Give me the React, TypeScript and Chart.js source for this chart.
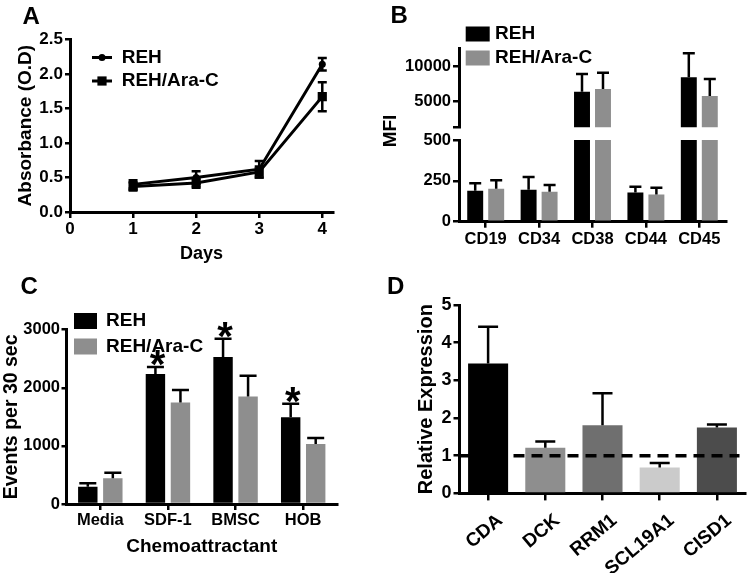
import React, { useEffect, useRef } from "react";
import { Chart, registerables } from "chart.js";

Chart.register(...registerables);

const FONT = "'Liberation Sans', Arial, Helvetica, sans-serif";
Chart.defaults.font.family = FONT;
Chart.defaults.font.weight = "bold";
Chart.defaults.color = "#000";

// ---------- Panel A: growth curve ----------
const daysA = [1, 2, 3, 4];
const rehA = [0.4, 0.5, 0.62, 2.14];
const rehAErr = [0.06, 0.09, 0.12, 0.09];
const araA = [0.37, 0.42, 0.58, 1.67];
const araAErr = [0.06, 0.07, 0.08, 0.21];
const xTicksA = [0, 1, 2, 3, 4];
const yTicksA = [0, 0.5, 1, 1.5, 2, 2.5];

// ---------- Panel B: surface markers (broken axis) ----------
const markersB = ["CD19", "CD34", "CD38", "CD44", "CD45"];
const rehB = [190, 196, 6400, 179, 8420];
const rehBErr = [45, 77, 2480, 35, 3360];
const araB = [202, 183, 6780, 167, 5800];
const araBErr = [52, 42, 2280, 41, 2380];
const lowTicksB = [0, 250, 500];
const highTicksB = [5000, 10000];
const lowMaxB = 500;
const highMinB = 1415;
const highMaxB = 12520;

// ---------- Panel C: migration ----------
const attractC = ["Media", "SDF-1", "BMSC", "HOB"];
const rehC = [299, 2236, 2529, 1494];
const rehCErr = [57, 120, 316, 230];
const araC = [442, 1747, 1851, 1034];
const araCErr = [98, 213, 356, 104];
const sigC = [false, true, true, true];
const yTicksC = [0, 1000, 2000, 3000];

// ---------- Panel D: relative expression ----------
const genesD = ["CDA", "DCK", "RRM1", "SCL19A1", "CISD1"];
const exprD = [3.45, 1.21, 1.81, 0.69, 1.75];
const exprDErr = [0.97, 0.17, 0.85, 0.12, 0.08];
const colorsD = ["#000000", "#8e8e8e", "#6f6f6f", "#cbcbcb", "#4c4c4c"];
const baselineD = 1;
const yTicksD = [0, 1, 2, 3, 4, 5];

const panelLetters = ["A", "B", "C", "D"];

const BLACK = "#000000";
const GRAY = "#8e8e8e";

const extras: any = {
  id: "extras",
  afterDatasetsDraw(chart: any, _a: any, opts: any) {
    const ctx = chart.ctx;
    const ys = chart.scales.y;
    const area = chart.chartArea;
    if (opts.refLine) {
      const r = opts.refLine;
      const py = ys.getPixelForValue(r.value);
      ctx.save();
      ctx.strokeStyle = "#000";
      ctx.lineWidth = r.width;
      ctx.setLineDash(r.dash);
      ctx.beginPath();
      ctx.moveTo(area.left, py);
      ctx.lineTo(area.right - r.endInset, py);
      ctx.stroke();
      ctx.restore();
    }
    const eb = opts.errorBars;
    if (eb) {
      chart.data.datasets.forEach((ds: any, i: number) => {
        if (!ds.errors) return;
        const meta = chart.getDatasetMeta(i);
        meta.data.forEach((el: any, j: number) => {
          const raw = ds.data[j];
          const v = typeof raw === "number" ? raw : raw.y;
          if (v < ys.min || v > ys.max) return;
          const e = ds.errors[j];
          const x = el.x;
          const top = ys.getPixelForValue(v + e);
          const bot = ys.getPixelForValue(eb.both ? v - e : v);
          const c = eb.cap / 2;
          ctx.save();
          ctx.strokeStyle = "#000";
          ctx.lineWidth = eb.width;
          ctx.beginPath();
          ctx.moveTo(x, top);
          ctx.lineTo(x, bot);
          ctx.moveTo(x - c, top);
          ctx.lineTo(x + c, top);
          if (eb.both) {
            ctx.moveTo(x - c, bot);
            ctx.lineTo(x + c, bot);
          }
          ctx.stroke();
          const st = opts.stars;
          if (st && i === st.dataset && st.flags[j]) {
            ctx.font = `bold ${st.size}px ${FONT}`;
            ctx.fillStyle = "#000";
            ctx.textAlign = "center";
            ctx.textBaseline = "alphabetic";
            const m = ctx.measureText("*");
            const base = top - st.gap - m.actualBoundingBoxDescent;
            ctx.fillText("*", x + st.dx, base);
          }
          ctx.restore();
        });
      });
    }
  },
  afterDraw(chart: any, _a: any, opts: any) {
    const ctx = chart.ctx;
    (opts.texts || []).forEach((t: any) => {
      ctx.save();
      ctx.font = `bold ${t.size}px ${FONT}`;
      ctx.fillStyle = "#000";
      ctx.textAlign = t.align || "left";
      ctx.textBaseline = "middle";
      ctx.translate(t.x, t.y);
      if (t.rot) ctx.rotate(t.rot);
      ctx.fillText(t.text, 0, 0);
      ctx.restore();
    });
    const L = opts.legend;
    if (L) {
      chart.data.datasets.forEach((ds: any, i: number) => {
        const cy = L.y + i * L.dy;
        ctx.save();
        if (L.kind === "box") {
          ctx.fillStyle = ds.backgroundColor;
          ctx.fillRect(L.x, cy - L.h / 2, L.w, L.h);
        } else {
          ctx.strokeStyle = "#000";
          ctx.lineWidth = 3;
          ctx.beginPath();
          ctx.moveTo(L.x, cy);
          ctx.lineTo(L.x + L.w, cy);
          ctx.stroke();
          ctx.fillStyle = "#000";
          const mx = L.x + L.w / 2;
          if (ds.pointStyle === "rect") {
            const s = ds.pointRadius * Math.SQRT1_2;
            ctx.fillRect(mx - s, cy - s, 2 * s, 2 * s);
          } else {
            ctx.beginPath();
            ctx.arc(mx, cy, ds.pointRadius, 0, Math.PI * 2);
            ctx.fill();
          }
        }
        ctx.font = `bold ${L.size}px ${FONT}`;
        ctx.textBaseline = "middle";
        ctx.textAlign = "left";
        ctx.fillStyle = "#000";
        ctx.fillText(ds.label, L.textX, cy);
        ctx.restore();
      });
    }
  },
};

const axisBorder = { display: true, color: "#000", width: 3 };
const tickGrid = (len: number, offset = false) => ({
  display: true,
  offset,
  drawOnChartArea: false,
  drawTicks: true,
  tickLength: len,
  color: "#000",
  lineWidth: 2.5,
});
const font = (size: number) => ({ family: FONT, size, weight: "bold" as const });
const plain = (v: any) => String(v);
const baseOpts = {
  responsive: false,
  animation: false,
  devicePixelRatio: 1,
  events: [],
};

// ---------------- configs ----------------
function makeA(): any {
  const W = 375, H = 280;
  const L = 70, T = 39.3, R = 333, B = 212;
  return {
    type: "line",
    data: {
      datasets: [
        {
          label: "REH",
          data: daysA.map((d, i) => ({ x: d, y: rehA[i] })),
          errors: rehAErr,
          borderColor: BLACK,
          backgroundColor: BLACK,
          borderWidth: 3,
          pointStyle: "circle",
          pointRadius: 3.5,
          pointBorderWidth: 0,
          pointBackgroundColor: BLACK,
          tension: 0,
        },
        {
          label: "REH/Ara-C",
          data: daysA.map((d, i) => ({ x: d, y: araA[i] })),
          errors: araAErr,
          borderColor: BLACK,
          backgroundColor: BLACK,
          borderWidth: 3,
          pointStyle: "rect",
          pointRadius: 6.5,
          pointBorderWidth: 0,
          pointBackgroundColor: BLACK,
          tension: 0,
        },
      ],
    },
    options: {
      ...baseOpts,
      layout: { padding: { left: 0, top: T, right: W - R, bottom: 0 } },
      plugins: {
        legend: { display: false },
        tooltip: { enabled: false },
        extras: {
          errorBars: { cap: 9, width: 2.5, both: true },
          legend: { kind: "line", x: 92, w: 20, y: 57.5, dy: 23.5, textX: 121.7, size: 19 },
        },
      },
      scales: {
        x: {
          type: "linear",
          min: 0,
          max: 4.17,
          afterBuildTicks: (s: any) => {
            s.ticks = xTicksA.map((v) => ({ value: v }));
          },
          afterFit: (s: any) => {
            s.height = H - B;
          },
          border: axisBorder,
          grid: tickGrid(6),
          ticks: { font: font(17), color: "#000", padding: 1, maxRotation: 0, callback: plain },
          title: { display: true, text: "Days", font: font(18), color: "#000", padding: { top: 0, bottom: 15 } },
        },
        y: {
          min: 0,
          max: 2.5,
          afterBuildTicks: (s: any) => {
            s.ticks = yTicksA.map((v) => ({ value: v }));
          },
          afterFit: (s: any) => {
            s.width = L;
          },
          border: axisBorder,
          grid: tickGrid(5),
          ticks: { font: font(17), color: "#000", padding: 2, callback: (v: any) => Number(v).toFixed(1) },
          title: { display: true, text: "Absorbance (O.D)", font: font(19), color: "#000", padding: { top: 14, bottom: 0 } },
        },
      },
    },
    plugins: [extras],
  };
}

const B_W = 374, B_H = 280, B_L = 84, B_R = 351;

function barDatasetsB() {
  return [
    {
      label: "REH",
      data: rehB,
      errors: rehBErr,
      backgroundColor: BLACK,
      categoryPercentage: 0.786,
      barPercentage: 0.76,
      clip: 0,
    },
    {
      label: "REH/Ara-C",
      data: araB,
      errors: araBErr,
      backgroundColor: GRAY,
      categoryPercentage: 0.786,
      barPercentage: 0.76,
      clip: 0,
    },
  ];
}

function makeBHigh(): any {
  const T = 48, B = 127.3;
  return {
    type: "bar",
    data: { labels: markersB, datasets: barDatasetsB() },
    options: {
      ...baseOpts,
      layout: { padding: { left: 0, top: T, right: B_W - B_R, bottom: B_H - B } },
      plugins: {
        legend: { display: false },
        tooltip: { enabled: false },
        extras: {
          errorBars: { cap: 12, width: 2.5, both: false },
          texts: [{ text: "MFI", x: 16, y: 131, size: 19, align: "center", rot: -Math.PI / 2 }],
          legend: { kind: "box", x: 90.7, w: 24, h: 15, y: 34, dy: 24, textX: 120, size: 19 },
        },
      },
      scales: {
        x: { type: "category", display: false, offset: true },
        y: {
          min: highMinB,
          max: highMaxB,
          afterBuildTicks: (s: any) => {
            s.ticks = [highMinB, ...highTicksB].map((v) => ({ value: v }));
          },
          afterFit: (s: any) => {
            s.width = B_L;
          },
          border: axisBorder,
          grid: tickGrid(6),
          ticks: { font: font(16.5), color: "#000", padding: 2, callback: (v: any) => (v === highMinB ? "" : String(v)) },
        },
      },
    },
    plugins: [extras],
  };
}

function makeBLow(): any {
  const T = 140, B = 221.7;
  return {
    type: "bar",
    data: { labels: markersB, datasets: barDatasetsB() },
    options: {
      ...baseOpts,
      layout: { padding: { left: 0, top: T, right: B_W - B_R, bottom: 0 } },
      plugins: {
        legend: { display: false },
        tooltip: { enabled: false },
        extras: { errorBars: { cap: 12, width: 2.5, both: false } },
      },
      scales: {
        x: {
          type: "category",
          offset: true,
          afterFit: (s: any) => {
            s.height = B_H - B;
          },
          border: axisBorder,
          grid: tickGrid(6, false),
          ticks: { font: font(16.5), color: "#000", padding: 1.5, maxRotation: 0, autoSkip: false },
        },
        y: {
          min: 0,
          max: lowMaxB,
          afterBuildTicks: (s: any) => {
            s.ticks = lowTicksB.map((v) => ({ value: v }));
          },
          afterFit: (s: any) => {
            s.width = B_L;
          },
          border: axisBorder,
          grid: tickGrid(6),
          ticks: { font: font(16.5), color: "#000", padding: 2, callback: plain },
        },
      },
    },
    plugins: [extras],
  };
}

function makeC(): any {
  const W = 375, H = 293;
  const L = 66.5, T = 49.7, R = 337, B = 224;
  const ds = (label: string, data: number[], errors: number[], color: string) => ({
    label,
    data,
    errors,
    backgroundColor: color,
    categoryPercentage: 0.74,
    barPercentage: 0.776,
  });
  return {
    type: "bar",
    data: {
      labels: attractC,
      datasets: [ds("REH", rehC, rehCErr, BLACK), ds("REH/Ara-C", araC, araCErr, GRAY)],
    },
    options: {
      ...baseOpts,
      layout: { padding: { left: 0, top: T, right: W - R, bottom: 0 } },
      plugins: {
        legend: { display: false },
        tooltip: { enabled: false },
        extras: {
          errorBars: { cap: 17, width: 2.5, both: false },
          stars: { dataset: 0, flags: sigC, size: 40, gap: 1, dx: 2 },
          legend: { kind: "box", x: 74, w: 23, h: 16, y: 41, dy: 25.5, textX: 106, size: 19 },
        },
      },
      scales: {
        x: {
          type: "category",
          offset: true,
          afterFit: (s: any) => {
            s.height = H - B;
          },
          border: axisBorder,
          grid: tickGrid(6, false),
          ticks: { font: font(16.5), color: "#000", padding: 1, maxRotation: 0, autoSkip: false },
          title: { display: true, text: "Chemoattractant", font: font(19), color: "#000", padding: { top: 0, bottom: 14.6 } },
        },
        y: {
          min: 0,
          max: 3000,
          afterBuildTicks: (s: any) => {
            s.ticks = yTicksC.map((v) => ({ value: v }));
          },
          afterFit: (s: any) => {
            s.width = L;
          },
          border: axisBorder,
          grid: tickGrid(5),
          ticks: { font: font(16.5), color: "#000", padding: 1.5, callback: plain },
          title: { display: true, text: "Events per 30 sec", font: font(19.5), color: "#000", padding: { top: 0, bottom: 0 } },
        },
      },
    },
    plugins: [extras],
  };
}

function makeD(): any {
  const W = 374, H = 293;
  const L = 84.5, T = 25, R = 370.5, B = 213.4;
  return {
    type: "bar",
    data: {
      labels: genesD,
      datasets: [
        {
          label: "Relative Expression",
          data: exprD,
          errors: exprDErr,
          backgroundColor: colorsD,
          categoryPercentage: 1,
          barPercentage: 0.7,
        },
      ],
    },
    options: {
      ...baseOpts,
      layout: { padding: { left: 0, top: T, right: W - R, bottom: 0 } },
      plugins: {
        legend: { display: false },
        tooltip: { enabled: false },
        extras: {
          refLine: { value: baselineD, dash: [11, 7], width: 3.5, endInset: 6 },
          errorBars: { cap: 20, width: 2.5, both: false },
        },
      },
      scales: {
        x: {
          type: "category",
          offset: true,
          afterFit: (s: any) => {
            s.height = H - B;
          },
          border: axisBorder,
          grid: tickGrid(7, false),
          ticks: {
            font: font(19),
            color: "#000",
            padding: 9,
            labelOffset: 12,
            minRotation: 40,
            maxRotation: 40,
            autoSkip: false,
          },
        },
        y: {
          min: 0,
          max: 5,
          afterBuildTicks: (s: any) => {
            s.ticks = yTicksD.map((v) => ({ value: v }));
          },
          afterFit: (s: any) => {
            s.width = L;
          },
          border: axisBorder,
          grid: tickGrid(6),
          ticks: { font: font(18), color: "#000", padding: 2, callback: plain },
          title: { display: true, text: "Relative Expression", font: font(20), color: "#000", padding: { top: 39.7, bottom: 0 } },
        },
      },
    },
    plugins: [extras],
  };
}

function ChartBox({ x, y, w, h, make }: { x: number; y: number; w: number; h: number; make: () => any }) {
  const ref = useRef<HTMLCanvasElement>(null);
  useEffect(() => {
    const chart = new Chart(ref.current as HTMLCanvasElement, make());
    return () => chart.destroy();
  }, []);
  return (
    <canvas
      ref={ref}
      width={w}
      height={h}
      style={{ position: "absolute", left: x, top: y, width: w, height: h }}
    />
  );
}

const letterPos = [
  { left: 22.5, top: 4 },
  { left: 390.5, top: 2.5 },
  { left: 20.5, top: 274 },
  { left: 387, top: 274 },
];

export default function App() {
  return (
    <div
      style={{
        position: "fixed",
        left: 0,
        top: 0,
        width: 749,
        height: 573,
        background: "#fff",
        overflow: "hidden",
      }}
    >
      <ChartBox x={0} y={0} w={375} h={280} make={makeA} />
      <ChartBox x={375} y={0} w={374} h={280} make={makeBHigh} />
      <ChartBox x={375} y={0} w={374} h={280} make={makeBLow} />
      <ChartBox x={0} y={280} w={375} h={293} make={makeC} />
      <ChartBox x={375} y={280} w={374} h={293} make={makeD} />
      {panelLetters.map((p, i) => (
        <div
          key={p}
          style={{
            position: "absolute",
            left: letterPos[i].left,
            top: letterPos[i].top,
            font: `bold 24px ${FONT}`,
            lineHeight: "24px",
            color: "#000",
          }}
        >
          {p}
        </div>
      ))}
    </div>
  );
}
